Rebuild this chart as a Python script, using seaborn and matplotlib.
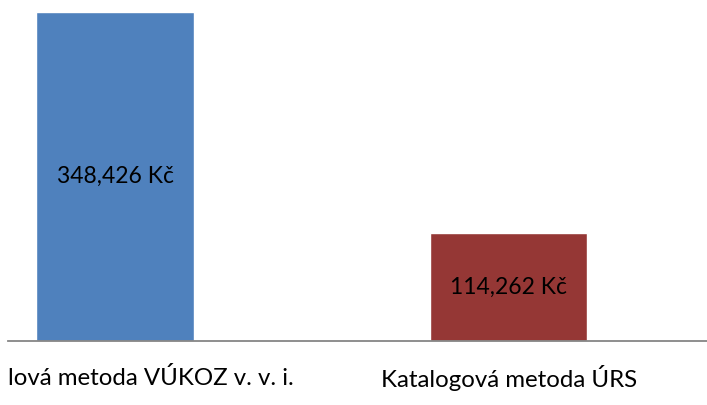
import pandas as pd
import seaborn as sns
from matplotlib import pyplot as plt
from matplotlib import transforms

categories = ["lová metoda VÚKOZ v. v. i.", "Katalogová metoda ÚRS"]
values = [348426, 114262]
bar_colors = ["#4F81BD", "#953735"]

sns.set_theme(style="white")
plt.rcParams['font.family'] = ['Lato', 'DejaVu Sans']

df = pd.DataFrame({"metoda": categories, "cena": values})

fig = plt.figure(figsize=(7.07, 4.05), dpi=100)
W, H = 707, 405
# axes: left edge of axis line at x=8px, bars top at y=12px, baseline y=341px
ax = fig.add_axes([8 / W, (H - 341) / H, (707 - 8) / W, (341 - 12) / H])

sns.barplot(data=df, x="metoda", y="cena", hue="metoda", palette=bar_colors,
            width=0.40, legend=False, ax=ax, saturation=1)

ax.set_xlim(-0.272, 1.504)
ax.set_ylim(0, max(values))
ax.set_xlabel("")
ax.set_ylabel("")
ax.set_yticks([])
ax.set_xticks([])
for s in ["top", "right", "left"]:
    ax.spines[s].set_visible(False)
ax.spines["bottom"].set_color("#868686")
ax.spines["bottom"].set_linewidth(1.3)

for i, v in enumerate(values):
    ax.text(i, v / 2, f"{v:,} Kč", ha="center", va="center", fontsize=16.5, color="black")

# category labels under the axis
trans = transforms.blended_transform_factory(ax.transData, ax.transAxes)
lab_y = -(378 - 341) / (341 - 12)
ax.text(-0.272, lab_y, categories[0], transform=trans, ha="left", va="center",
        fontsize=17.3, color="black", clip_on=False)
ax.text(1, lab_y, categories[1], transform=trans, ha="center", va="center",
        fontsize=17.3, color="black", clip_on=False)

plt.savefig("out.png", dpi=100)
